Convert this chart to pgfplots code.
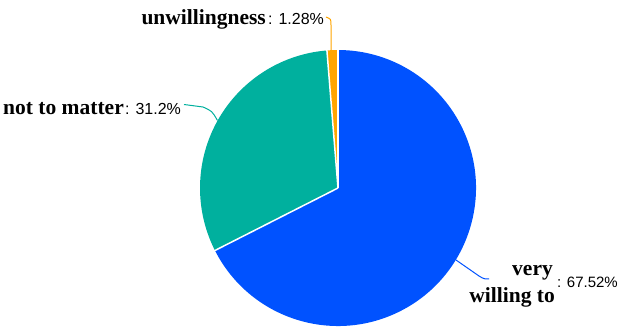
\documentclass[border=0pt]{standalone}
\usepackage{pgfplots}
\usepackage{pgfplotstable}
\pgfplotsset{compat=1.18}
\usepackage{fontspec}
\setmainfont{Liberation Serif}
\setsansfont{Liberation Sans}
\definecolor{cblue}{HTML}{0052FF}
\definecolor{cteal}{HTML}{00B09E}
\definecolor{corange}{HTML}{FFA500}

\pgfplotstableread{
name value
unwillingness 1.28
notmatter 31.2
verywilling 67.52
}\piedata

\newcommand\nm{\bfseries\fontsize{21.5}{24}\selectfont}
\newcommand\vl{\sffamily\fontsize{16}{18}\selectfont}

\begin{document}
\begin{tikzpicture}
\pgfplotstablegetelem{0}{value}\of\piedata \let\va\pgfplotsretval
\pgfplotstablegetelem{1}{value}\of\piedata \let\vb\pgfplotsretval
\pgfplotstablegetelem{2}{value}\of\piedata \let\vc\pgfplotsretval
\pgfmathsetmacro\aA{90}
\pgfmathsetmacro\aB{90+3.6*\va}
\pgfmathsetmacro\aC{\aB+3.6*\vb}
\pgfmathsetmacro\aD{\aC+3.6*\vc}
\begin{axis}[width=619pt,height=327pt,scale only axis,
  xmin=0,xmax=619,ymin=0,ymax=327,hide axis,clip=false]
% sectors
\fill[corange] (axis cs:338,139) -- ++(\aA:138pt) arc[start angle=\aA,end angle=\aB,radius=138pt] -- cycle;
\fill[cteal] (axis cs:338,139) -- ++(\aB:138pt) arc[start angle=\aB,end angle=\aC,radius=138pt] -- cycle;
\fill[cblue] (axis cs:338,139) -- ++(\aC:138pt) arc[start angle=\aC,end angle=\aD,radius=138pt] -- cycle;
% separators
\draw[white,line width=1.5pt] (axis cs:338,139) -- ++(\aA:139pt);
\draw[white,line width=1.5pt] (axis cs:338,139) -- ++(\aB:139pt);
\draw[white,line width=1.5pt] (axis cs:338,139) -- ++(\aC:139pt);
% leader lines
\draw[corange,line width=1pt] (axis cs:331,276) -- (axis cs:331,302) .. controls (axis cs:331,308) .. (axis cs:326,310);
\draw[cteal,line width=1pt] (axis cs:217.5,206.5) .. controls (axis cs:212,216) .. (axis cs:203,220) -- (axis cs:184,222.5);
\draw[cblue,line width=1pt] (axis cs:456,67) -- (axis cs:479,51) .. controls (axis cs:484,48) .. (axis cs:489,48);
% labels
\node[anchor=base east,inner sep=0pt] at (axis cs:266,302) {\nm unwillingness};
\node[anchor=base west,inner sep=0pt] at (axis cs:268,302) {\vl : 1.28\%};
\node[anchor=base east,inner sep=0pt] at (axis cs:124,212) {\nm not to matter};
\node[anchor=base west,inner sep=0pt] at (axis cs:125,212) {\vl : 31.2\%};
\node[anchor=base east,inner sep=0pt] at (axis cs:553,51) {\nm very};
\node[anchor=base east,inner sep=0pt] at (axis cs:555,24) {\nm willing to};
\node[anchor=base west,inner sep=0pt] at (axis cs:557,39) {\sffamily\fontsize{15}{18}\selectfont : 67.52\%};
\end{axis}
\pgfresetboundingbox
\path[use as bounding box] (current axis.south west) rectangle (current axis.north east);
\end{tikzpicture}
\end{document}
